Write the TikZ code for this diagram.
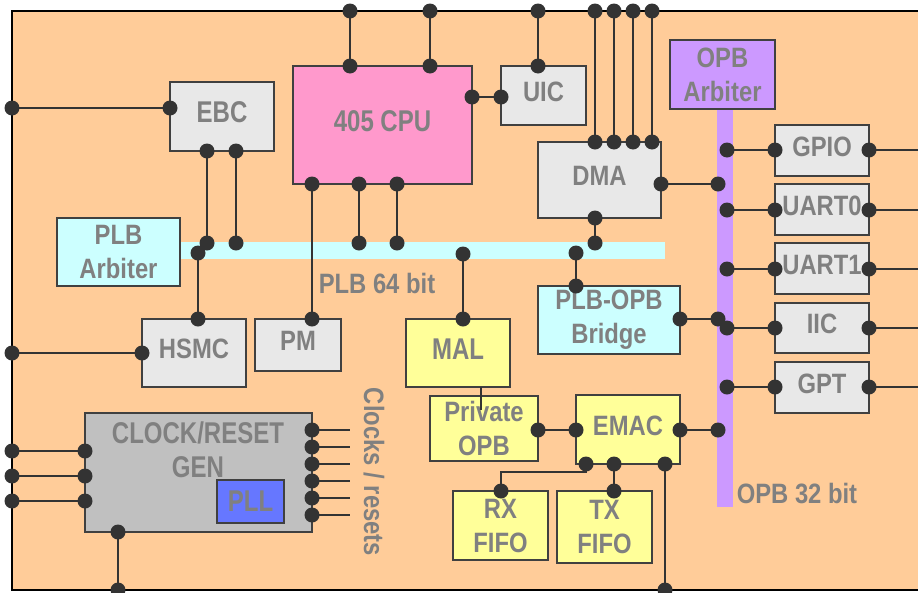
\documentclass[tikz,border=0pt]{standalone}
\usepackage{fontspec}
\newfontfamily\lab{Liberation Sans}[FakeStretch=0.85]
\newfontfamily\labn{Liberation Sans}[FakeStretch=0.80]
\usetikzlibrary{calc}
\definecolor{peach}{HTML}{FFCC99}
\definecolor{boxgray}{HTML}{E8E8E8}
\definecolor{boxline}{HTML}{404040}
\definecolor{pinkc}{HTML}{FF99CC}
\definecolor{cyanc}{HTML}{CCFFFF}
\definecolor{purp}{HTML}{CC99FF}
\definecolor{yel}{HTML}{FFFF99}
\definecolor{clkgray}{HTML}{C0C0C0}
\definecolor{pllc}{HTML}{6677FF}
\definecolor{txtgray}{HTML}{808080}
\definecolor{wirec}{HTML}{333333}
\tikzset{
  box/.style={draw=boxline, line width=1.8pt, inner sep=0pt, text=txtgray, align=center,
    font=\lab\bfseries\fontsize{28}{34}\selectfont},
  big/.style={font=\labn\bfseries\fontsize{30}{34}\selectfont},
  one/.style={text depth=8pt},
  wire/.style={draw=wirec, line width=2pt},
  lbl/.style={text=txtgray, inner sep=0pt, align=center, font=\lab\bfseries\fontsize{28}{34}\selectfont},
  busbar/.style={inner sep=0pt, draw=none},
}
\begin{document}
\begin{tikzpicture}[x=1pt,y=-1pt]
\useasboundingbox (0,0) rectangle (918,592);
\clip (0,0) rectangle (918,592);
% frame
\fill[peach] (12,11) rectangle (940,590);
\draw[black, line width=2pt] (940,11) -- (12,11) -- (12,590) -- (940,590);

% buses
\node[busbar, fill=cyanc, minimum width=485pt, minimum height=17pt] (plbbus) at (422.5,250.5) {};
\node[busbar, fill=purp, minimum width=16pt, minimum height=398pt] (opbbus) at (725,308) {};

% boxes
\node[box, one, big, fill=boxgray, minimum width=104pt, minimum height=69pt] (ebc) at (222,116.5) {EBC};
\node[box, one, big, fill=pinkc, minimum width=179pt, minimum height=118pt] (cpu) at (382.5,125) {405 CPU};
\node[box, one, fill=boxgray, minimum width=85pt, minimum height=59pt] (uic) at (543.5,95.5) {UIC};
\node[box, one, fill=boxgray, minimum width=123pt, minimum height=76pt] (dma) at (599.5,180) {DMA};
\node[box, fill=purp, minimum width=105pt, minimum height=69pt] (opbarb) at (722.5,74.5) {OPB\\Arbiter};
\node[box, one, fill=boxgray, minimum width=94pt, minimum height=51pt] (gpio) at (822,150.5) {GPIO};
\node[box, one, fill=boxgray, minimum width=94pt, minimum height=51pt] (uart0) at (822,209.5) {UART0};
\node[box, one, fill=boxgray, minimum width=94pt, minimum height=51pt] (uart1) at (822,268.5) {UART1};
\node[box, one, fill=boxgray, minimum width=94pt, minimum height=50pt] (iic) at (822,328) {IIC};
\node[box, one, fill=boxgray, minimum width=94pt, minimum height=51pt] (gpt) at (822,387.5) {GPT};
\node[box, fill=cyanc, minimum width=123pt, minimum height=68pt] (plbarb) at (118.5,252) {PLB\\Arbiter};
\node[box, one, fill=boxgray, minimum width=104pt, minimum height=68pt] (hsmc) at (194,353) {HSMC};
\node[box, one, fill=boxgray, minimum width=86pt, minimum height=52pt] (pm) at (298,345) {PM};
\node[box, one, big, fill=yel, minimum width=104pt, minimum height=68pt] (mal) at (458,353) {MAL};
\node[box, fill=cyanc, minimum width=142pt, minimum height=68pt] (bridge) at (609,320) {PLB-OPB\\Bridge};
\node[box, fill=yel, minimum width=108pt, minimum height=65pt] (popb) at (484,428.5) {Private\\OPB};
\node[box, one, fill=yel, minimum width=104pt, minimum height=69pt] (emac) at (628,429.5) {EMAC};
\node[box, fill=yel, minimum width=95pt, minimum height=69pt] (rxf) at (500.5,525.5) {RX\\FIFO};
\node[box, fill=yel, minimum width=95pt, minimum height=72pt] (txf) at (604.5,527) {TX\\FIFO};
\node[box, fill=clkgray, minimum width=227pt, minimum height=119pt] (clk) at (198.5,472.5) {};
\node[lbl, big] (clktxt) at (198,450) {CLOCK/RESET\\GEN};
\node[box, big, fill=pllc, minimum width=67pt, minimum height=43pt] (pll) at (250.5,501.5) {PLL};

% labels
\node[lbl] (plblbl) at (377,283) {PLB 64 bit};
\node[lbl] (opblbl) at (797,494) {OPB 32 bit};
\node[lbl, rotate=-90] (clklbl) at (374,472) {Clocks / resets};

% connection points
\coordinate (fE) at (12,108);   \coordinate (ebcL) at (170,108);
\coordinate (fC1) at (350,11);  \coordinate (cpuT1) at (350,66);
\coordinate (fC2) at (430,11);  \coordinate (cpuT2) at (430,66);
\coordinate (fU) at (538,11);   \coordinate (uicT) at (538,66);
\coordinate (cpuR) at (472,97); \coordinate (uicL) at (501,97);
\coordinate (fD1) at (595,11);  \coordinate (dmaT1) at (595,142);
\coordinate (fD2) at (614,11);  \coordinate (dmaT2) at (614,142);
\coordinate (fD3) at (633,11);  \coordinate (dmaT3) at (633,142);
\coordinate (fD4) at (652,11);  \coordinate (dmaT4) at (652,142);
\coordinate (dmaR) at (661,184); \coordinate (oD) at (718,184);
\foreach \n/\y in {gpio/150,uart0/210,uart1/269,iic/328,gpt/387}{
  \coordinate (o\n) at (727,\y);
  \coordinate (\n L) at (775,\y);
  \coordinate (\n R) at (869,\y);
  \coordinate (\n E) at (940,\y);
}
\coordinate (ebcB1) at (207,151); \coordinate (p1) at (207,243);
\coordinate (ebcB2) at (236,151); \coordinate (p2) at (236,243);
\coordinate (pH) at (198,253);    \coordinate (hsmcT) at (198,319);
\coordinate (cpuB1) at (312,184); \coordinate (pmT) at (312,319);
\coordinate (cpuB2) at (359,184); \coordinate (p3) at (359,243);
\coordinate (cpuB3) at (397,184); \coordinate (p4) at (397,243);
\coordinate (pM) at (463,254);    \coordinate (malT) at (463,319);
\coordinate (dmaB) at (595,218);  \coordinate (pD) at (595,243);
\coordinate (pB) at (576,253);    \coordinate (brT) at (576,286);
\coordinate (brR) at (680,319);   \coordinate (oB) at (718,319);
\coordinate (hsmcL) at (142,353); \coordinate (fH) at (12,353);
\coordinate (malB) at (481,387);  \coordinate (popbIn) at (481,410);
\coordinate (popbR) at (538,430); \coordinate (emacL) at (576,430);
\coordinate (emacR) at (680,430); \coordinate (oE) at (718,430);
\coordinate (emacB1) at (586,464); \coordinate (rxBend) at (501,472); \coordinate (rxT) at (501,491);
\coordinate (emacB2) at (614,464); \coordinate (txT) at (614,491);
\coordinate (emacB3) at (665,464); \coordinate (fEm) at (665,590);
\foreach \i/\y in {1/451,2/476,3/501}{
  \coordinate (clkL\i) at (85,\y); \coordinate (fK\i) at (12,\y);
}
\foreach \i/\y in {1/430,2/447,3/464,4/481,5/498,6/515}{
  \coordinate (clkR\i) at (312,\y); \coordinate (cE\i) at (350,\y);
}
\coordinate (clkB) at (118,532); \coordinate (fK) at (118,590);

% wires
\draw[wire] (fE) -- (ebcL);
\draw[wire] (fC1) -- (cpuT1);
\draw[wire] (fC2) -- (cpuT2);
\draw[wire] (fU) -- (uicT);
\draw[wire] (cpuR) -- (uicL);
\foreach \i in {1,2,3,4} \draw[wire] (fD\i) -- (dmaT\i);
\draw[wire] (dmaR) -- (oD);
\foreach \n in {gpio,uart0,uart1,iic,gpt}{
  \draw[wire] (o\n) -- (\n L);
  \draw[wire] (\n R) -- (\n E);
}
\draw[wire] (ebcB1) -- (p1);
\draw[wire] (ebcB2) -- (p2);
\draw[wire] (pH) -- (hsmcT);
\draw[wire] (cpuB1) -- (pmT);
\draw[wire] (cpuB2) -- (p3);
\draw[wire] (cpuB3) -- (p4);
\draw[wire] (pM) -- (malT);
\draw[wire] (dmaB) -- (pD);
\draw[wire] (pB) -- (brT);
\draw[wire] (brR) -- (oB);
\draw[wire] (hsmcL) -- (fH);
\draw[wire] (malB) -- (popbIn);
\draw[wire] (popbR) -- (emacL);
\draw[wire] (emacR) -- (oE);
\draw[wire] (emacB1) |- (rxBend) -- (rxT);
\draw[wire] (emacB2) -- (txT);
\draw[wire] (emacB3) -- (fEm);
\foreach \i in {1,2,3} \draw[wire] (clkL\i) -- (fK\i);
\foreach \i in {1,...,6} \draw[wire] (clkR\i) -- (cE\i);
\draw[wire] (clkB) -- (fK);

% dots
\foreach \d in {fE,ebcL,fC1,cpuT1,fC2,cpuT2,fU,uicT,cpuR,uicL,
  fD1,fD2,fD3,fD4,dmaT1,dmaT2,dmaT3,dmaT4,dmaR,oD,
  ogpio,gpioL,gpioR,ouart0,uart0L,uart0R,ouart1,uart1L,uart1R,oiic,iicL,iicR,ogpt,gptL,gptR,
  ebcB1,p1,ebcB2,p2,pH,hsmcT,cpuB1,pmT,cpuB2,p3,cpuB3,p4,pM,malT,dmaB,pD,pB,brT,brR,oB,
  hsmcL,fH,popbR,emacL,emacR,oE,emacB1,rxT,emacB2,txT,emacB3,fEm,
  clkL1,clkL2,clkL3,fK1,fK2,fK3,clkR1,clkR2,clkR3,clkR4,clkR5,clkR6,clkB,fK}
  \fill[wirec] (\d) circle[radius=7.5pt];
\end{tikzpicture}
\end{document}
